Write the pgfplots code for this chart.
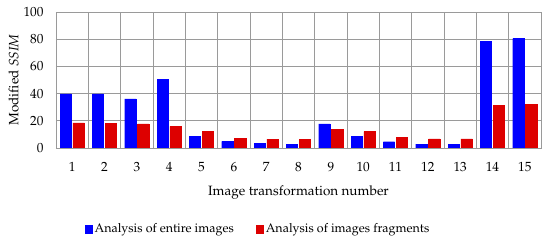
\documentclass[border=0pt]{standalone}
\usepackage[T1]{fontenc}
\usepackage{mathpazo}
\usepackage{pgfplots}
\pgfplotsset{compat=1.18}
\definecolor{barblue}{HTML}{0000FF}
\definecolor{barred}{HTML}{DD0000}
\definecolor{gridgray}{HTML}{9A9A9A}

\pgfplotstableread{
n  entire  frag
1  39.8    18.5
2  39.8    18.0
3  36.1    17.8
4  50.5    15.9
5  8.6     12.2
6  4.9     7.2
7  3.3     6.6
8  2.7     6.6
9  17.8    13.7
10 8.4     12.0
11 4.6     7.7
12 2.8     6.7
13 2.7     6.7
14 78.5    31.5
15 80.5    32.2
}\ssimdata

\begin{document}
\begin{tikzpicture}
  \path[use as bounding box] (-56pt,-95pt) rectangle (494pt,148pt);
  \begin{axis}[
    at={(0pt,0pt)},anchor=south west,
    scale only axis,width=485pt,height=136pt,
    xmin=0.5,xmax=15.5,ymin=0,ymax=100,
    xtick={1,...,15},ytick={0,20,...,100},
    minor xtick={1.5,2.5,...,14.5},
    xmajorgrids=false,xminorgrids=true,ymajorgrids=true,
    grid style={gridgray,line width=0.6pt},
    minor grid style={gridgray,line width=0.6pt},
    axis line style={gridgray,line width=0.6pt},
    major tick length=0pt,minor tick length=0pt,
    tick label style={font=\fontsize{13.3}{15}\selectfont},
    xticklabel style={yshift=-11pt},
    yticklabel style={xshift=-9pt},
    xlabel={Image transformation number},
    ylabel={Modified \textit{SSIM}},
    label style={font=\fontsize{13.5}{15}\selectfont},
    xlabel style={yshift=-7pt},
    ylabel style={yshift=-2pt},
    ybar,bar width=0.35,
    legend columns=2,
    legend style={at={(0.4165,-0.596)},anchor=center,draw=none,fill=none,
      font=\fontsize{12.5}{14}\selectfont,
      /tikz/every even column/.append style={column sep=20pt}},
    legend image code/.code={\fill[#1] (0pt,-3.8pt) rectangle (7.5pt,3.8pt);},
  ]
    \addplot[fill=barblue,draw=barblue,bar shift=-0.2] table[x=n,y=entire]{\ssimdata};
    \addlegendentry{Analysis of entire images}
    \addplot[fill=barred,draw=barred,bar shift=0.2] table[x=n,y=frag]{\ssimdata};
    \addlegendentry{Analysis of images fragments}
  \end{axis}
\end{tikzpicture}
\end{document}
